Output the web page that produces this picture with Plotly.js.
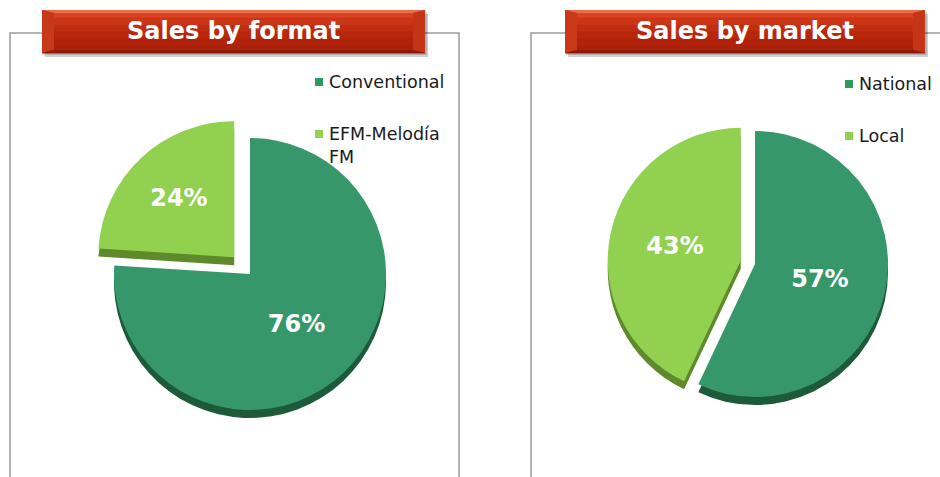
<!DOCTYPE html>
<html>
<head>
<meta charset="utf-8">
<script src="https://cdn.plot.ly/plotly-3.0.1.min.js"></script>
<style>html,body{margin:0;padding:0;background:#fff}#chart{width:940px;height:477px}</style>
</head>
<body>
<div id="chart"></div>
<script>
// ---- data ----
const titles = ['Sales by format', 'Sales by market'];
const formatLabels = ['Conventional', 'EFM-Melodía<br>FM'];
const formatValues = [76, 24];
const marketLabels = ['National', 'Local'];
const marketValues = [57, 43];

// ---- styling ----
const W = 940, H = 477;
const darkGreen = '#36986A', lightGreen = '#92D050';
const darkSide = '#1D5A3A', lightSide = '#5E8A2C';
const FONT = 'DejaVu Sans, Verdana, sans-serif';

function domainFor(cx, cy, r, pull, dy) {
  const half = r * (1 + pull);
  return {
    x: [(cx - half) / W, (cx + half) / W],
    y: [1 - (cy + dy + half) / H, 1 - (cy + dy - half) / H]
  };
}

function pieTraces(labels, values, cx, cy, r, pulls) {
  const maxPull = Math.max(...pulls);
  const base = {
    type: 'pie', labels: labels, values: values, sort: false,
    direction: 'clockwise', rotation: 0, pull: pulls, hoverinfo: 'skip',
    showlegend: false
  };
  const shadow = Object.assign({}, base, {
    domain: domainFor(cx, cy, r, maxPull, 8),
    marker: {colors: [darkSide, lightSide], line: {width: 0}},
    textinfo: 'none'
  });
  const top = Object.assign({}, base, {
    domain: domainFor(cx, cy, r, maxPull, 0),
    marker: {colors: [darkGreen, lightGreen], line: {width: 0}},
    texttemplate: '%{percent:.0%}',
    textposition: 'inside',
    insidetextorientation: 'horizontal',
    insidetextfont: {family: FONT, size: 24, color: '#ffffff', weight: 700}
  });
  return [shadow, top];
}

const data = [
  ...pieTraces(formatLabels, formatValues, 250, 274, 136, [0, 0.17]),
  ...pieTraces(marketLabels, marketValues, 755, 264, 133, [0, 0.11])
];

const shapes = [];
const annotations = [];

function line(path) {
  shapes.push({type: 'path', xref: 'x', yref: 'y', path: path,
    line: {color: '#9a9a9a', width: 1.5}});
}
// frames
line('M 42 33 H 10 V 480');
line('M 425 33 H 459 V 480');
line('M 565 33 H 531 V 480');
line('M 925 33 H 945');

function poly(pts, fill) {
  shapes.push({type: 'path', xref: 'x', yref: 'y',
    path: 'M ' + pts.map(p => p.join(' ')).join(' L ') + ' Z',
    fillcolor: fill, line: {width: 0}});
}
function banner(x0, x1, y0, y1, text) {
  // shadow
  poly([[x0 + 3, y0 + 4], [x1 + 3, y0 + 4], [x1 + 3, y1 + 4], [x0 + 3, y1 + 4]], 'rgba(0,0,0,0.18)');
  poly([[x0 + 1, y0 + 2], [x1 + 2, y0 + 2], [x1 + 2, y1 + 2], [x0 + 1, y1 + 2]], 'rgba(0,0,0,0.15)');
  // face gradient bands
  const bands = ['#D9431F', '#CC3617', '#C02D10', '#B8270C', '#B0230A', '#AA2008'];
  const bh = (y1 - y0) / bands.length;
  bands.forEach((c, i) => poly([[x0, y0 + i * bh], [x1, y0 + i * bh], [x1, y0 + (i + 1) * bh + 0.5], [x0, y0 + (i + 1) * bh + 0.5]], c));
  const ix = 12, iy = 3;
  // bevels
  poly([[x0, y0], [x1, y0], [x1 - ix, y0 + iy], [x0 + ix, y0 + iy]], '#EE6A48');
  poly([[x0, y0], [x0 + ix, y0 + iy], [x0 + ix, y1 - iy], [x0, y1]], '#C9381A');
  poly([[x1, y0], [x1 - ix, y0 + iy], [x1 - ix, y1 - iy], [x1, y1]], '#C43416');
  poly([[x0, y1], [x0 + ix, y1 - iy], [x1 - ix, y1 - iy], [x1, y1]], '#8E1A05');
  annotations.push({xref: 'x', yref: 'y', x: (x0 + x1) / 2, y: (y0 + y1) / 2 - 1,
    text: text, showarrow: false, xanchor: 'center', yanchor: 'middle',
    font: {family: FONT, size: 24, color: '#ffffff', weight: 700}});
}
banner(42, 425, 10, 53, titles[0]);
banner(565, 925, 10, 53, titles[1]);

function legend(labels, colors, x, ys) {
  labels.forEach((lab, i) => {
    shapes.push({type: 'rect', xref: 'x', yref: 'y', x0: x, x1: x + 8, y0: ys[i] - 4, y1: ys[i] + 4,
      fillcolor: colors[i], line: {width: 0}});
    annotations.push({xref: 'x', yref: 'y', x: x + 12, y: ys[i] - 12, text: lab,
      showarrow: false, xanchor: 'left', yanchor: 'top', align: 'left',
      font: {family: FONT, size: 17.5, color: '#1a1a1a'}});
  });
}
legend(formatLabels, ['#2E9A5E', lightGreen], 315, [82, 134]);
legend(marketLabels, ['#2E9A5E', lightGreen], 845, [84, 136]);

const layout = {
  width: W, height: H,
  margin: {l: 0, r: 0, t: 0, b: 0},
  paper_bgcolor: '#ffffff', plot_bgcolor: 'rgba(0,0,0,0)',
  showlegend: false,
  xaxis: {range: [0, W], visible: false, fixedrange: true},
  yaxis: {range: [H, 0], visible: false, fixedrange: true},
  shapes: shapes,
  annotations: annotations
};

Plotly.newPlot('chart', data, layout, {displayModeBar: false, staticPlot: true});
</script>
</body>
</html>
